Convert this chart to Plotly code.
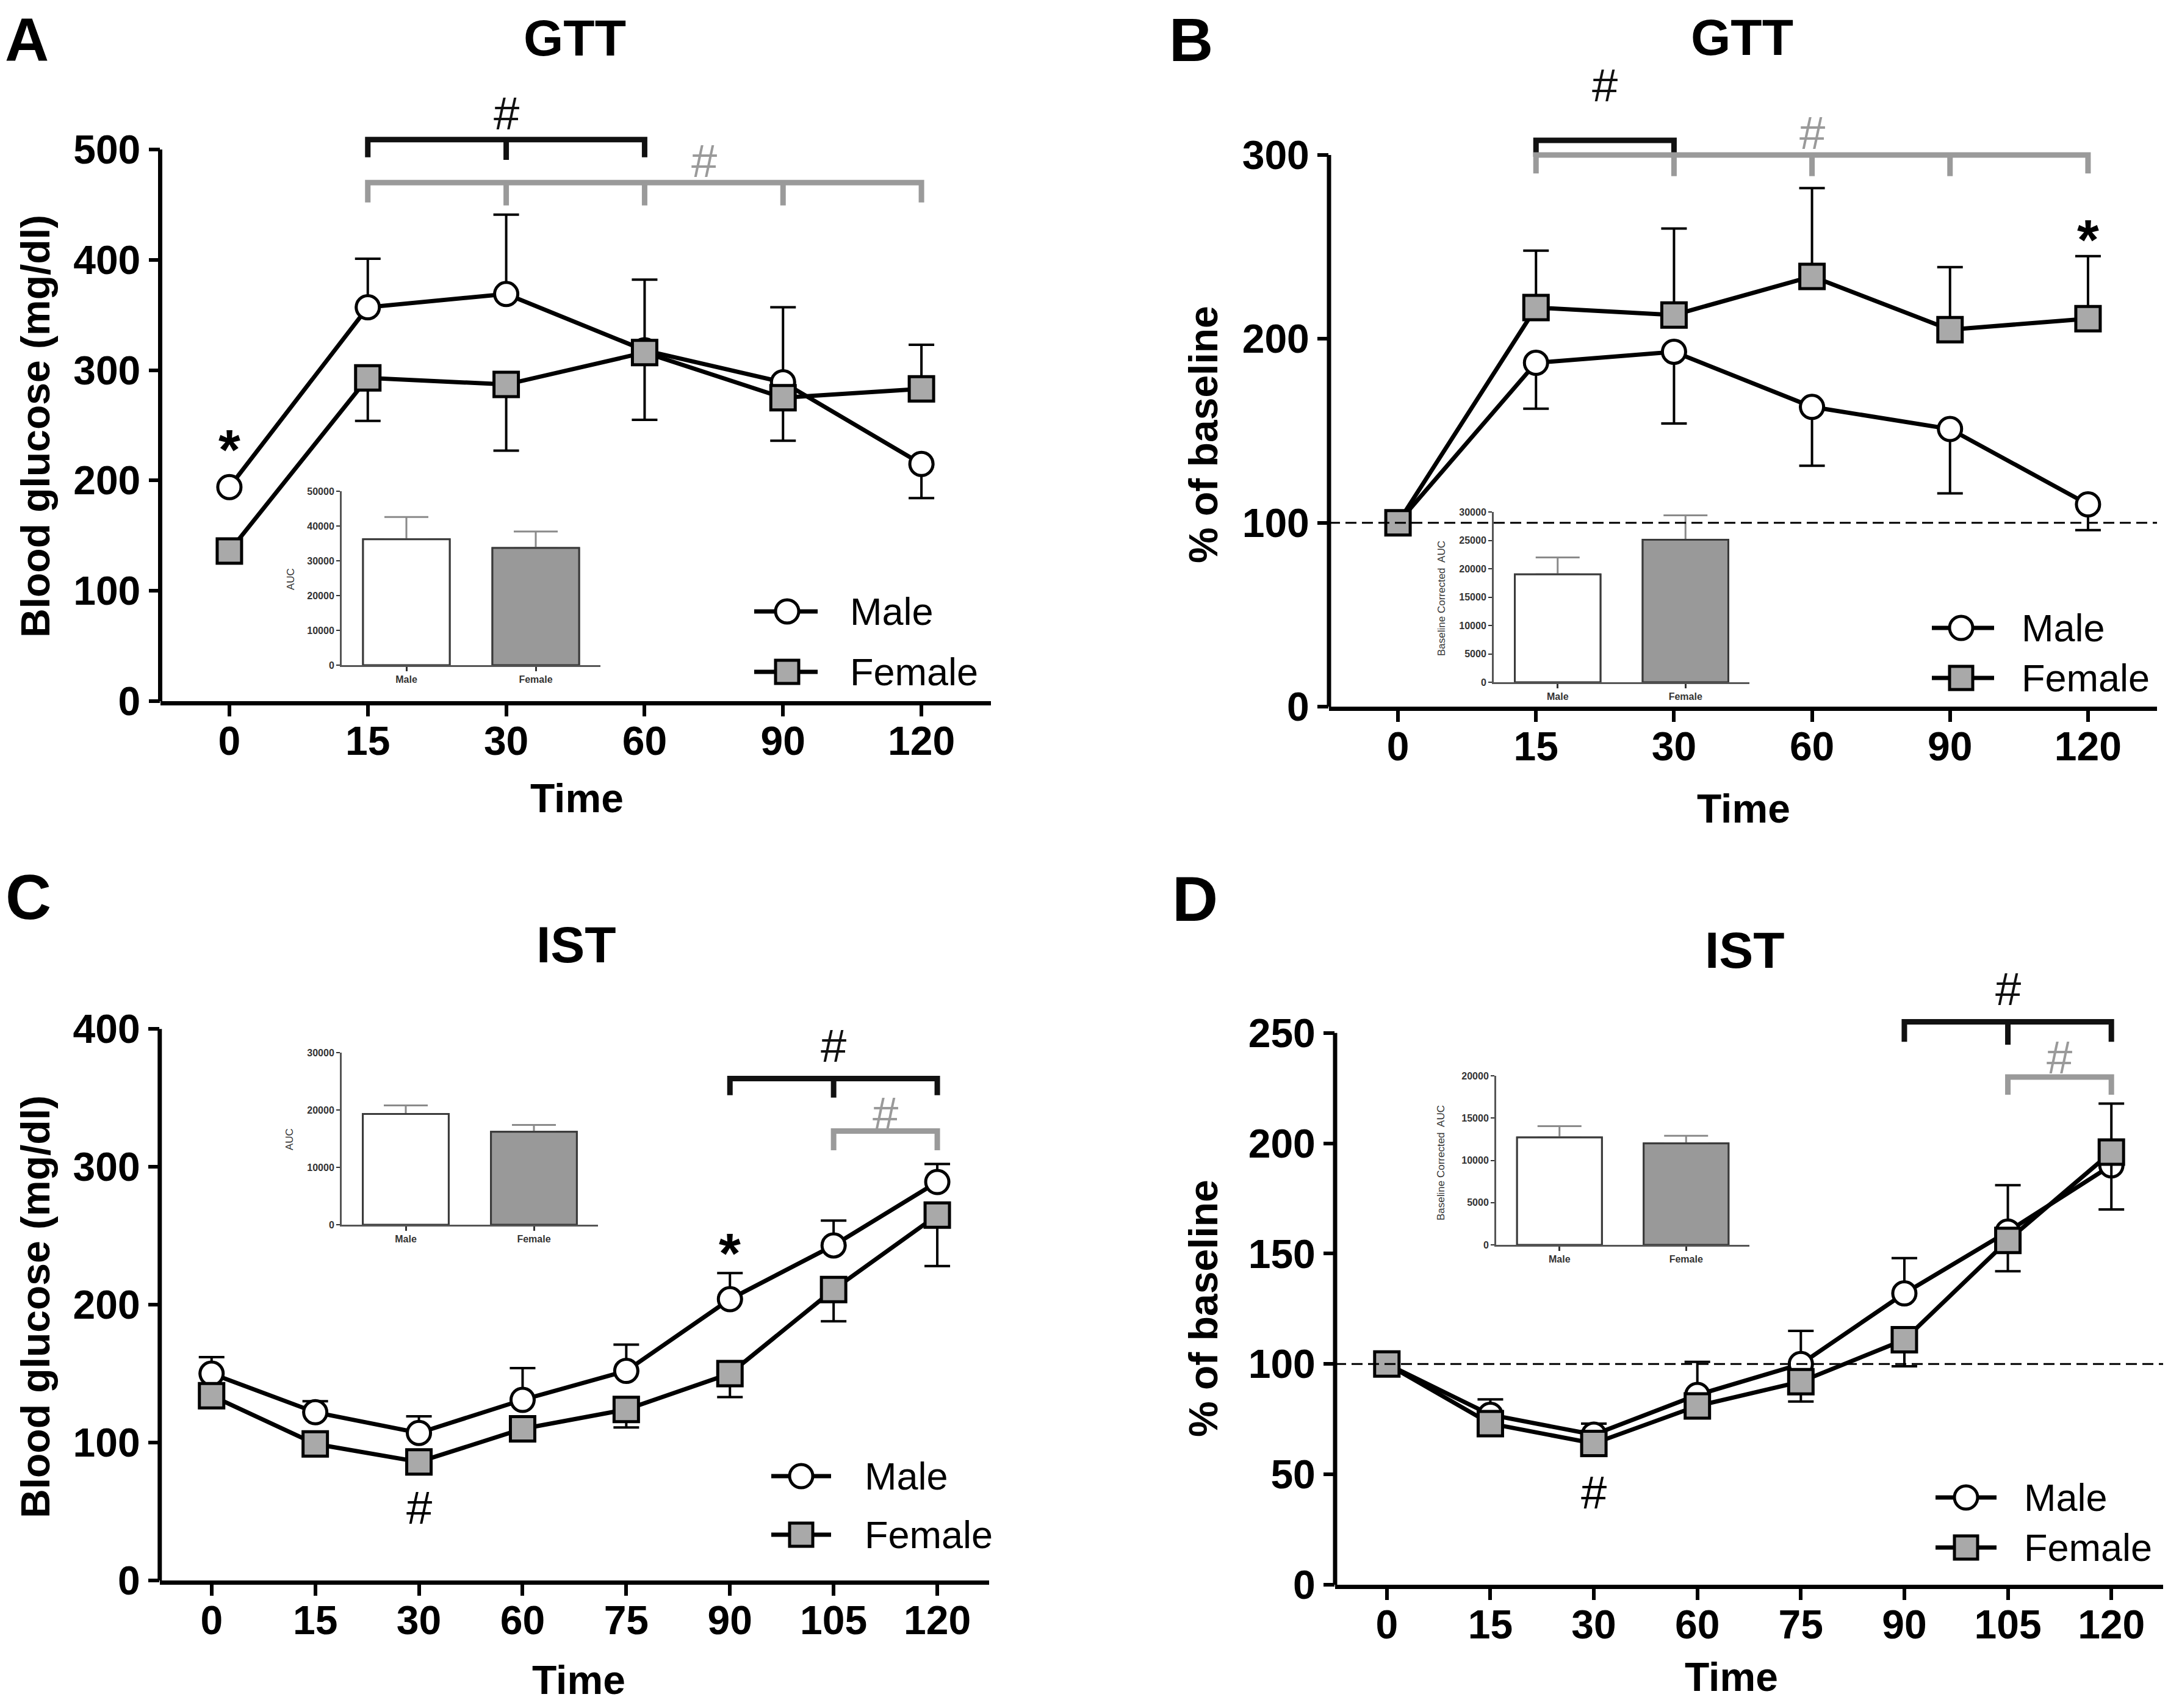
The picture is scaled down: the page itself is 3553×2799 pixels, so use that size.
import plotly.graph_objects as go

W, H = 3553, 2799          # browser window
OFF = 8                     # default page body margin
WF, HF = W - 2 * OFF, H - 2 * OFF
FONT = "Liberation Sans"

# ---------------- data ----------------
gtt_times = ["0", "15", "30", "60", "90", "120"]
ist_times = ["0", "15", "30", "60", "75", "90", "105", "120"]
sexes = ["Male", "Female"]

# A: GTT blood glucose (mg/dl)
A_male = [194, 357, 369, 318, 289, 215]
A_male_up = [0, 44, 72, 64, 68, 0]
A_male_dn = [0, 0, 0, 0, 0, 31]
A_female = [136, 293, 287, 316, 275, 283]
A_female_up = [0, 0, 0, 0, 0, 40]
A_female_dn = [0, 39, 60, 61, 39, 0]
A_auc = [36200, 33700]
A_auc_err = [6400, 4700]

# B: GTT % of baseline
B_male = [100, 187, 193, 163, 151, 110]
B_male_up = [0, 0, 0, 0, 0, 0]
B_male_dn = [0, 25, 39, 32, 35, 14]
B_female = [100, 217, 213, 234, 205, 211]
B_female_up = [0, 31, 47, 48, 34, 34]
B_female_dn = [0, 0, 0, 0, 0, 0]
B_auc = [19000, 25100]
B_auc_err = [3000, 4300]

# C: IST blood glucose (mg/dl)
C_male = [150, 122, 107, 131, 152, 204, 243, 289]
C_male_up = [12, 8, 12, 23, 19, 19, 18, 13]
C_male_dn = [0, 0, 0, 0, 0, 0, 0, 0]
C_female = [134, 99, 86, 110, 124, 150, 211, 265]
C_female_up = [0, 0, 0, 0, 0, 0, 0, 0]
C_female_dn = [0, 0, 0, 0, 13, 17, 23, 37]
C_auc = [19300, 16200]
C_auc_err = [1500, 1200]

# D: IST % of baseline
D_male = [100, 77, 68, 86, 100, 132, 160, 190]
D_male_up = [0, 7, 5, 15, 15, 16, 21, 28]
D_male_dn = [0, 0, 0, 0, 0, 0, 0, 0]
D_female = [100, 73, 64, 81, 92, 111, 156, 196]
D_female_up = [0, 0, 0, 0, 0, 0, 0, 0]
D_female_dn = [0, 0, 0, 0, 9, 12, 14, 26]
D_auc = [12700, 12000]
D_auc_err = [1350, 900]

# significance brackets: (times covered, colour)
A_sig = [(["15", "30", "60"], "black"), (["15", "30", "60", "90", "120"], "gray")]
B_sig = [(["15", "30"], "black"), (["15", "30", "60", "90", "120"], "gray")]
C_sig = [(["90", "105", "120"], "black"), (["105", "120"], "gray")]
D_sig = [(["90", "105", "120"], "black"), (["105", "120"], "gray")]

# ---------------- styling / layout ----------------
GRAY_MARK = "#a9a9a9"
GRAY_SIG = "#9a9a9a"
COL = {"black": "#111111", "gray": GRAY_SIG}

panels = [
    dict(letter="A", title="GTT", ytitle="Blood glucose (mg/dl)", times=gtt_times,
         male=(A_male, A_male_up, A_male_dn), female=(A_female, A_female_up, A_female_dn),
         auc=A_auc, auc_err=A_auc_err, sig=A_sig,
         box=(262.5, 1623.5, 136.5, 1149), yr=(0, 560), ytop=500, ydt=100, dashed=False,
         sig_levels=[(509, 16, 2, 533), (470, 18, 3.43, 490)],
         stars=[(0, 228)], hash_below=[],
         inset=(560, 984, 805, 1090), inset_top=50000, inset_dt=10000, inset_title="AUC",
         inset_title_xy=(477, 949),
         letter_x=44, title_xy=(942, 62), ytitle_xy=(58, 699), xtitle_xy=(946, 1308),
         legend=(1236, 1340, 1290, 1392, 1002, 1101)),
    dict(letter="B", title="GTT", ytitle="% of baseline", times=gtt_times,
         male=(B_male, B_male_up, B_male_dn), female=(B_female, B_female_up, B_female_dn),
         auc=B_auc, auc_err=B_auc_err, sig=B_sig,
         box=(2178, 3535, 73.2, 1158), yr=(0, 360), ytop=300, ydt=100, dashed=True,
         sig_levels=[(308, 9, 1.5, 338), (300, 10, 3, 312)],
         stars=[(5, 254)], hash_below=[],
         inset=(2448, 2867, 839, 1118), inset_top=30000, inset_dt=5000,
         inset_title="Baseline Corrected  AUC", inset_title_xy=(2362, 981),
         letter_x=1952, title_xy=(2855, 61), ytitle_xy=(1972, 712), xtitle_xy=(2857, 1325),
         legend=(3166, 3268, 3214, 3312, 1029, 1111)),
    dict(letter="C", title="IST", ytitle="Blood glucose (mg/dl)", times=ist_times,
         male=(C_male, C_male_up, C_male_dn), female=(C_female, C_female_up, C_female_dn),
         auc=C_auc, auc_err=C_auc_err, sig=C_sig,
         box=(261.8, 1621, 1641, 2590), yr=(0, 420), ytop=400, ydt=100, dashed=False,
         sig_levels=[(364, 12, 6, 388), (326, 14, 6.5, 339)],
         stars=[(5, 237)], hash_below=[(2, 53)],
         inset=(560, 980, 1725, 2007), inset_top=30000, inset_dt=10000, inset_title="AUC",
         inset_title_xy=(474, 1867),
         letter_xy=(46, 1470), title_xy=(945, 1548), ytitle_xy=(58, 2142), xtitle_xy=(948, 2753),
         legend=(1264, 1362, 1313, 1416, 2419, 2515)),
    dict(letter="D", title="IST", ytitle="% of baseline", times=ist_times,
         male=(D_male, D_male_up, D_male_dn), female=(D_female, D_female_up, D_female_dn),
         auc=D_auc, auc_err=D_auc_err, sig=D_sig,
         box=(2188, 3545, 1548, 2597), yr=(0, 290), ytop=250, ydt=50, dashed=True,
         sig_levels=[(255, 9, 6, 270), (230, 8, 6.5, 239)],
         stars=[], hash_below=[(2, 42)],
         inset=(2452, 2867, 1763, 2040), inset_top=20000, inset_dt=5000,
         inset_title="Baseline Corrected  AUC", inset_title_xy=(2362, 1906),
         letter_xy=(1958, 1473), title_xy=(2859, 1557), ytitle_xy=(1972, 2144), xtitle_xy=(2837, 2748),
         legend=(3172, 3272, 3222, 3316, 2454, 2536)),
]


def px(x):
    return (x - OFF) / WF


def py(y):
    return 1 - (y - OFF) / HF


fig = go.Figure()
layout = dict(width=WF, height=HF, margin=dict(l=0, r=0, t=0, b=0, pad=0),
              paper_bgcolor="white", plot_bgcolor="rgba(0,0,0,0)",
              showlegend=False, barmode="overlay",
              font=dict(family=FONT, color="black"))
shapes = []
annotations = []


def ann(text, x, y, size, bold=True, color="black", angle=0, xanchor="center",
        yanchor="middle", xref="paper", yref="paper"):
    annotations.append(dict(text=text, x=x, y=y, xref=xref, yref=yref, showarrow=False,
                            xanchor=xanchor, yanchor=yanchor, textangle=angle, borderpad=0,
                            font=dict(family=FONT, size=size, color=color,
                                      weight="bold" if bold else "normal")))


for k, p in enumerate(panels):
    n = k + 1
    xa, ya = (f"x{n}", f"y{n}") if n > 1 else ("x", "y")
    xkey, ykey = (f"xaxis{n}", f"yaxis{n}") if n > 1 else ("xaxis", "yaxis")
    times = p["times"]
    idx = list(range(len(times)))
    x0, x1, ytop_px, ybot_px = p["box"]

    layout[xkey] = dict(domain=[px(x0), px(x1)], range=[-0.5, len(times) - 0.5], anchor=ya,
                        tickvals=idx, ticktext=times, ticks="outside", ticklen=18, tickwidth=6,
                        tickcolor="black", showline=True, linewidth=7, linecolor="black",
                        showgrid=False, zeroline=False, ticklabelstandoff=-16, automargin=False,
                        tickfont=dict(family=FONT, size=66, weight="bold"))
    yt = list(range(0, p["ytop"] + 1, p["ydt"]))
    layout[ykey] = dict(domain=[py(ybot_px), py(ytop_px)], range=list(p["yr"]), anchor=xa,
                        tickvals=yt, ticks="outside", ticklen=18, tickwidth=6, tickcolor="black",
                        showline=False, showgrid=False, zeroline=False, automargin=False,
                        tickfont=dict(family=FONT, size=66, weight="bold"))
    # y axis line ending at the top tick
    shapes.append(dict(type="line", xref=f"{xa} domain", yref=ya, x0=0, x1=0, y0=0, y1=p["ytop"],
                       line=dict(color="black", width=7)))
    if p["dashed"]:
        shapes.append(dict(type="line", xref=f"{xa} domain", yref=ya, x0=0, x1=1, y0=100, y1=100,
                           line=dict(color="black", width=3, dash="18px,9px")))

    # series
    for (vals, up, dn), sym, fill, size in [(p["male"], "circle", "white", 38),
                                            (p["female"], "square", GRAY_MARK, 40)]:
        fig.add_trace(go.Scatter(
            x=idx, y=vals, mode="lines+markers", xaxis=xa, yaxis=ya, cliponaxis=False,
            line=dict(color="black", width=7),
            marker=dict(symbol=sym, size=size, color=fill, line=dict(color="black", width=5)),
            error_y=dict(type="data", symmetric=False, array=up, arrayminus=dn,
                         color="black", thickness=4, width=21)))

    # significance brackets
    for (span, col), (level, drop, hx, hy) in zip(p["sig"], p["sig_levels"]):
        ii = [times.index(t) for t in span]
        xs = [ii[0], ii[0], ii[-1], ii[-1]]
        ys = [level - drop, level, level, level - drop]
        for m in ii[1:-1]:
            xs += [None, m, m]
            ys += [None, level, level - drop * 1.15]
        fig.add_trace(go.Scatter(x=xs, y=ys, mode="lines", xaxis=xa, yaxis=ya,
                                 line=dict(color=COL[col], width=9), hoverinfo="skip"))
        ann("#", hx, hy, 76, bold=False, color=COL[col], xref=xa, yref=ya)
    for si, sy in p["stars"]:
        ann("*", si, sy, 92, xref=xa, yref=ya)
    for hi, hy in p["hash_below"]:
        ann("#", hi, hy, 76, bold=False, xref=xa, yref=ya)

    # text
    if "letter_x" in p:
        ann(p["letter"], px(p["letter_x"]), 1.0, 100, yanchor="top")
    else:
        ann(p["letter"], px(p["letter_xy"][0]), py(p["letter_xy"][1]), 104)
    ann(p["title"], px(p["title_xy"][0]), py(p["title_xy"][1]), 84)
    ann(p["ytitle"], px(p["ytitle_xy"][0]), py(p["ytitle_xy"][1]), 66, angle=-90)
    ann("Time", px(p["xtitle_xy"][0]), py(p["xtitle_xy"][1]), 66)

    # legend (manual, large glyphs)
    lx0, lx1, mx, tx, ym, yf = p["legend"]
    for yy, kind, fill, label in [(ym, "circle", "white", "Male"), (yf, "rect", GRAY_MARK, "Female")]:
        shapes.append(dict(type="line", xref="paper", yref="paper", x0=px(lx0), x1=px(lx1),
                           y0=py(yy), y1=py(yy), line=dict(color="black", width=7)))
        r = 19
        shapes.append(dict(type=kind, xref="paper", yref="paper", x0=px(mx - r), x1=px(mx + r),
                           y0=py(yy + r), y1=py(yy - r), fillcolor=fill,
                           line=dict(color="black", width=5)))
        ann(label, px(tx), py(yy), 63, bold=False, xanchor="left")

    # inset
    m = n + 4
    ixa, iya = f"x{m}", f"y{m}"
    ix0, ix1, iy0, iy1 = p["inset"]
    layout[f"xaxis{m}"] = dict(domain=[px(ix0), px(ix1)], range=[-0.5, 1.5], anchor=iya,
                               tickvals=[0, 1], ticktext=sexes, ticks="outside", ticklen=7,
                               tickwidth=3, tickcolor="#333333", showline=True, linewidth=3,
                               linecolor="#555555", showgrid=False, zeroline=False,
                               automargin=False,
                               tickfont=dict(family=FONT, size=16, weight="bold", color="#333333"))
    layout[f"yaxis{m}"] = dict(domain=[py(iy1), py(iy0)], range=[0, p["inset_top"]], anchor=ixa,
                               tickvals=list(range(0, p["inset_top"] + 1, p["inset_dt"])),
                               tickformat="d",
                               ticks="outside", ticklen=6, tickwidth=2, tickcolor="#333333",
                               showline=True, linewidth=3, linecolor="#555555",
                               showgrid=False, zeroline=False, automargin=False,
                               tickfont=dict(family=FONT, size=16, weight="bold", color="#333333"))
    fills = ["white", "#999999"]
    fig.add_trace(go.Bar(x=[0, 1], y=p["auc"], xaxis=ixa, yaxis=iya, width=0.67,
                         marker=dict(color=fills, line=dict(color="#3a3a3a", width=3)),
                         error_y=dict(type="data", symmetric=False, array=p["auc_err"],
                                      arrayminus=[0, 0], color="#8a8a8a", thickness=3, width=36)))
    fig.add_trace(go.Bar(x=[0, 1], y=p["auc"], xaxis=ixa, yaxis=iya, width=0.67,
                         marker=dict(color=fills, line=dict(color="#3a3a3a", width=3))))
    ann(p["inset_title"], px(p["inset_title_xy"][0]), py(p["inset_title_xy"][1]), 17,
        bold=False, color="#333333", angle=-90)

layout["shapes"] = shapes
layout["annotations"] = annotations
fig.update_layout(**layout)
fig.write_html("out.html")
